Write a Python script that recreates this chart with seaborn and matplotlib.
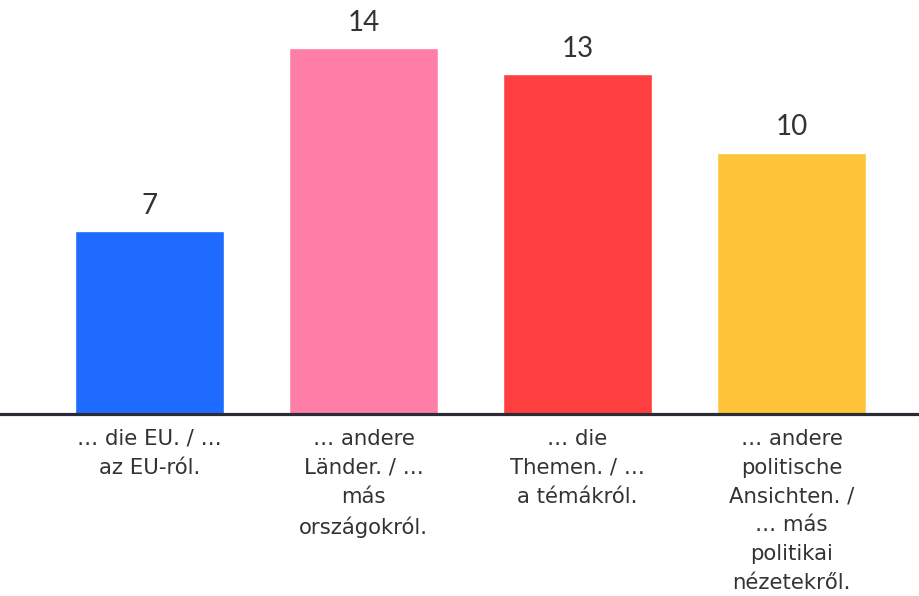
import matplotlib
matplotlib.use("Agg")
import matplotlib.pyplot as plt
import seaborn as sns
import pandas as pd

categories = [
    "… die EU. / …\naz EU-ról.",
    "… andere\nLänder. / …\nmás\nországokról.",
    "… die\nThemen. / …\na témákról.",
    "… andere\npolitische\nAnsichten. /\n… más\npolitikai\nnézetekről.",
]
values = [7, 14, 13, 10]
colors = ["#1F6BFF", "#FF7EA8", "#FF3F3F", "#FFC337"]

sns.set_theme(style="white")
plt.rcParams["font.family"] = ["Lato", "DejaVu Sans"]

df = pd.DataFrame({"cat": categories, "val": values})

fig = plt.figure(figsize=(9.2, 5.96), dpi=100)
ax = fig.add_axes([0, (596 - 414) / 596, 1, 414 / 596])

sns.barplot(data=df, x="cat", y="val", hue="cat", palette=colors,
            legend=False, width=0.696, saturation=1, ax=ax)

ax.set_xlim(-0.699, 3.600)
ax.set_ylim(0, 15.84)
for s in ax.spines.values():
    s.set_visible(False)
ax.axhline(0, color="#2b2b35", linewidth=2.3, zorder=5, clip_on=False)
ax.set_yticks([])
ax.set_xlabel("")
ax.set_ylabel("")
ax.tick_params(axis="x", length=0, pad=10.5, labelsize=15.3, labelcolor="#333333")
for lab in ax.get_xticklabels():
    lab.set_family(["DejaVu Sans"])
    lab.set_multialignment("center")
    lab.set_linespacing(1.56)

for i, v in enumerate(values):
    ax.annotate(str(v), (i, v), xytext=(0, 9), textcoords="offset points",
                ha="center", va="bottom", fontsize=20, color="#333333")

fig.savefig("out.png", dpi=100)
